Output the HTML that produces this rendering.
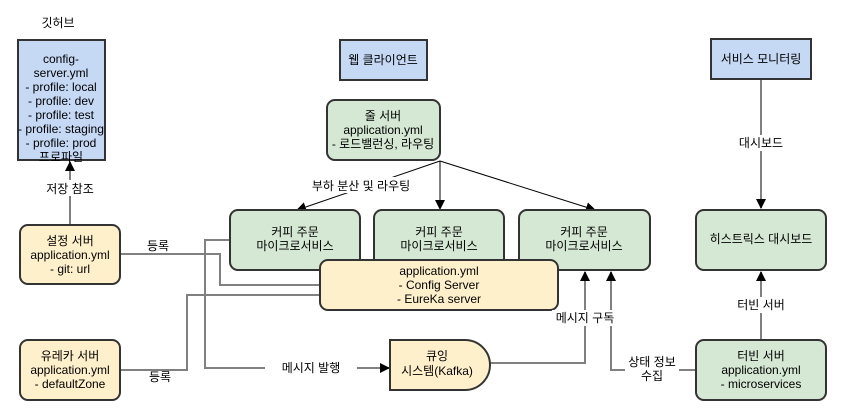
<!DOCTYPE html>
<html><head><meta charset="utf-8"><style>
html,body{margin:0;padding:0;background:#fff;}
svg{display:block;}
text{font-family:"Liberation Sans","Noto Sans CJK KR",sans-serif;font-size:12px;fill:#000;text-anchor:middle;}
.g{fill:none;stroke:#808080;stroke-width:2;}
.k{fill:none;stroke:#000;stroke-width:1;}
.bl{fill:#c5d9f5;stroke:#333;stroke-width:2;}
.gr{fill:#d5e8d4;stroke:#333;stroke-width:2;}
.ye{fill:#fff0cc;stroke:#333;stroke-width:2;}
.lb{fill:#fff;}
</style></head><body>
<svg width="846" height="420" viewBox="0 0 846 420" xmlns="http://www.w3.org/2000/svg">
<defs>
<marker id="a" markerWidth="10" markerHeight="10" refX="9" refY="5" orient="auto" markerUnits="userSpaceOnUse"><path d="M0,0 L10,5 L0,10 Z" fill="#000"/></marker>
</defs>
<path class="g" d="M70,225 V162" marker-end="url(#a)"/>
<path class="g" d="M120,254 H220 V285 H320"/>
<path class="g" d="M120,370 H187 V295 H320"/>
<path class="g" d="M230,240 H205 V368 H389" marker-end="url(#a)"/>
<path class="g" d="M490,363 H585 V272" marker-end="url(#a)"/>
<path class="g" d="M696,370 H611 V272" marker-end="url(#a)"/>
<path class="g" d="M761,340 V272" marker-end="url(#a)"/>
<path class="g" d="M761,80 V208" marker-end="url(#a)"/>
<path class="k" d="M440,161 L297,210" marker-end="url(#a)"/>
<path class="k" d="M440,161 V209" marker-end="url(#a)"/>
<path class="k" d="M440,161 L595,210" marker-end="url(#a)"/>
<text x="58" y="27" font-size="13">깃허브</text>
<rect class="bl" x="18" y="40" width="87" height="120"/>
<g font-size="11.5"><text x="61" y="63">config-</text><text x="61" y="77">server.yml</text><text x="61" y="91">- profile: local</text><text x="61" y="105">- profile: dev</text><text x="61" y="119">- profile: test</text><text x="61" y="133" textLength="86" lengthAdjust="spacingAndGlyphs">- profile: staging</text><text x="61" y="147">- profile: prod</text><text x="61" y="161">프로파일</text></g>
<rect class="lb" x="40" y="180" width="60" height="16"/><text x="70" y="193">저장 참조</text>
<rect class="ye" x="20" y="225" width="100" height="59" rx="8"/>
<text x="70" y="245">설정 서버</text><text x="70" y="259">application.yml</text><text x="70" y="273">- git: url</text>
<rect class="ye" x="20" y="340" width="100" height="60" rx="8"/>
<text x="70" y="360">유레카 서버</text><text x="70" y="374">application.yml</text><text x="70" y="388">- defaultZone</text>
<text x="158" y="250">등록</text><text x="160" y="381">등록</text>
<rect class="bl" x="340" y="40" width="87" height="40"/><text x="383" y="64">웹 클라이언트</text>
<rect class="gr" x="327" y="100" width="113" height="60" rx="8"/>
<text x="383" y="120">줄 서버</text><text x="383" y="134">application.yml</text><text x="383" y="148">- 로드밸런싱, 라우팅</text>
<rect class="lb" x="305" y="177" width="112" height="16"/><text x="361" y="190">부하 분산 및 라우팅</text>
<rect class="gr" x="230" y="210" width="130" height="60" rx="8"/><text x="295" y="236">커피 주문</text><text x="295" y="250">마이크로서비스</text>
<rect class="gr" x="374" y="210" width="130" height="60" rx="8"/><text x="439" y="236">커피 주문</text><text x="439" y="250">마이크로서비스</text>
<rect class="gr" x="519" y="210" width="131" height="60" rx="8"/><text x="584" y="236">커피 주문</text><text x="584" y="250">마이크로서비스</text>
<rect class="ye" x="320" y="260" width="238" height="50" rx="8"/>
<text x="439" y="275">application.yml</text><text x="439" y="289">- Config Server</text><text x="439" y="303">- EureKa server</text>
<rect class="lb" x="552" y="310" width="66" height="16"/><text x="585" y="322">메시지 구독</text>
<rect class="lb" x="265" y="360" width="92" height="16"/><text x="311" y="372">메시지 발행</text>
<path class="ye" d="M390,340 H465 A25,25 0 0 1 465,390 H390 Z"/>
<text x="437" y="360">큐잉</text><text x="437" y="375">시스템(Kafka)</text>
<rect class="lb" x="625" y="354" width="54" height="30"/><text x="652" y="366">상태 정보</text><text x="652" y="380">수집</text>
<rect class="bl" x="711" y="39" width="100" height="40"/><text x="761" y="63">서비스 모니터링</text>
<rect class="lb" x="735" y="135" width="52" height="16"/><text x="761" y="147">대시보드</text>
<rect class="gr" x="696" y="210" width="130" height="60" rx="8"/><text x="761" y="243">히스트릭스 대시보드</text>
<rect class="lb" x="733" y="297" width="56" height="16"/><text x="761" y="309">터빈 서버</text>
<rect class="gr" x="696" y="340" width="130" height="60" rx="8"/>
<text x="761" y="360">터빈 서버</text><text x="761" y="374">application.yml</text><text x="761" y="388">- microservices</text>
</svg>
</body></html>
